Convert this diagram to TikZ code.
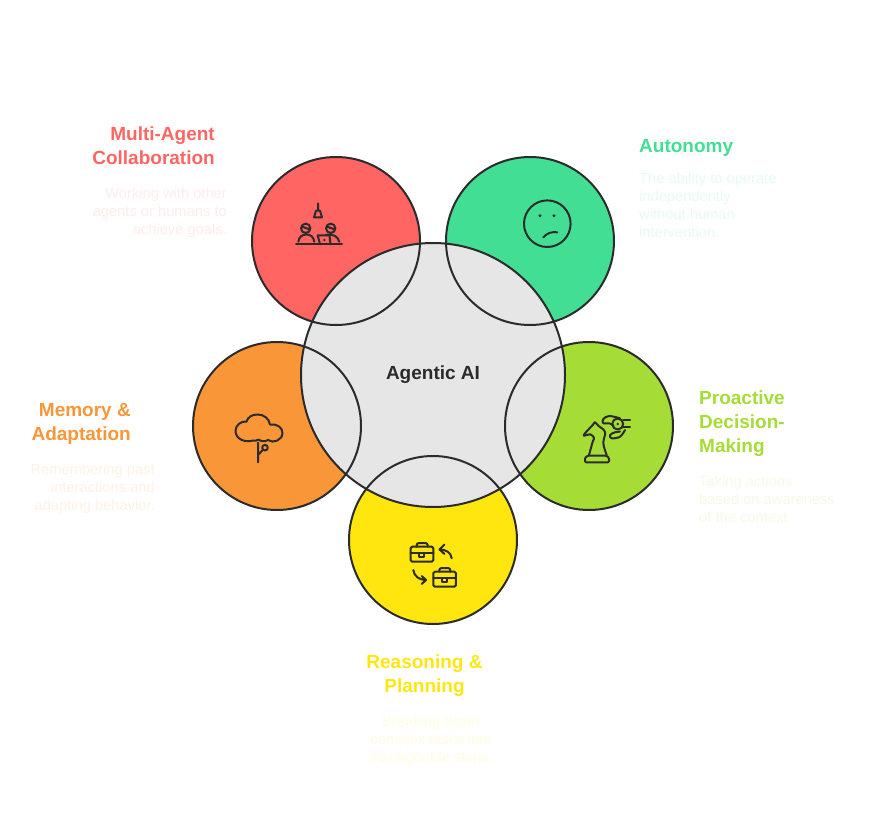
\documentclass[tikz,border=0pt]{standalone}
\usepackage{fontspec}
\setmainfont{Liberation Sans}
\usetikzlibrary{positioning,calc}
\definecolor{inkdark}{HTML}{2B2B2B}
\definecolor{hubgray}{HTML}{E6E6E6}
\definecolor{collabred}{HTML}{FF6663}
\definecolor{autogreen}{HTML}{42DE94}
\definecolor{proactlime}{HTML}{A5DC36}
\definecolor{reasonyellow}{HTML}{FFE60F}
\definecolor{memorange}{HTML}{F99638}
\tikzset{
  titlelabel/.style={font=\bfseries\fontsize{19}{24}\selectfont,inner sep=0pt},
  textlabel/.style={font=\fontsize{14.7}{18}\selectfont,inner sep=0pt},
  ring/.style={draw=inkdark,line width=2pt},
  glyph/.style={draw=inkdark,line width=2pt,line cap=round,line join=round},
  briefcase/.pic={
    \draw[glyph,rounded corners=1.5pt] (0,0) rectangle (22.6,15);
    \draw[glyph,rounded corners=2pt] (6,0) -- (6,-3.6) -- (17,-3.6) -- (17,0);
    \draw[glyph] (0,6.6) -- (8.3,6.6) (13.3,6.6) -- (22.6,6.6);
    \draw[glyph] (8.3,6) rectangle (13.3,10.6);
  }
}
\begin{document}
\begin{tikzpicture}[x=1pt,y=-1pt]
\useasboundingbox (0,0) rectangle (878,818);
% circles
\fill[collabred] (336,241) circle (84); \fill[autogreen] (530,241) circle (84); \fill[proactlime] (589,426) circle (84);
\fill[reasonyellow] (433,540) circle (84); \fill[memorange] (277,426) circle (84);
\fill[hubgray] (433,375) circle (132);
\draw[ring] (336,241) circle (84); \draw[ring] (530,241) circle (84); \draw[ring] (589,426) circle (84);
\draw[ring] (433,540) circle (84); \draw[ring] (277,426) circle (84); \draw[ring] (433,375) circle (132);
\node[titlelabel,text=inkdark] (hub) at (433,375) {Agentic AI};
% labels
\node[titlelabel,text=collabred,align=right,anchor=north east] (collabtitle) at (215,127) {Multi-Agent\\Collaboration};
\node[textlabel,text=collabred!13,align=right,anchor=north east] (collabtext) at (227,188) {Working with other\\agents or humans to\\achieve goals.};
\node[titlelabel,text=autogreen,align=left,anchor=north west] (autotitle) at (639,139) {Autonomy};
\node[textlabel,text=autogreen!13,align=left,anchor=north west] (autotext) at (639,173) {The ability to operate\\independently\\without human\\intervention.};
\node[titlelabel,text=proactlime,align=left,anchor=north west] (proacttitle) at (699,391) {Proactive\\Decision-\\Making};
\node[textlabel,text=proactlime!13,align=left,anchor=north west] (proacttext) at (699,476) {Taking actions\\based on awareness\\of the context.};
\node[titlelabel,text=reasonyellow,align=center,anchor=north] (reasontitle) at (424.5,655) {Reasoning \&\\Planning};
\node[textlabel,text=reasonyellow!13,align=center,anchor=north] (reasontext) at (431,716) {Breaking down\\complex tasks into\\manageable steps.};
\node[titlelabel,text=memorange,align=right,anchor=north east] (memtitle) at (131,403) {Memory \&\\Adaptation};
\node[textlabel,text=memorange!13,align=right,anchor=north east] (memtext) at (155,464) {Remembering past\\interactions and\\adapting behavior.};
% people at a table
\draw[glyph] (296,244.3) -- (342,244.3);
\draw[glyph] (305.7,228.3) circle (4.7) (301.5,226.5) -- (310,229.5) (330.7,228.3) circle (4.7) (326.5,226.5) -- (335,229.5);
\draw[glyph] (298.3,241.7) .. controls (299,237) and (302,234.5) .. (306.5,234.5) .. controls (311,234.5) and (313.5,237) .. (314.3,241.7);
\draw[glyph] (326,234.8) .. controls (333,233.5) and (338,236.5) .. (339.3,241.7);
\draw[glyph] (320,244.3) -- (317.7,235.3) -- (329.5,235.3) -- (330.5,244.3);
\fill[inkdark] (324.3,240) circle (1.3);
\draw[glyph] (318,203.3) -- (318,210.7) (316,210.7) -- (320,210.7) -- (322,217.3) -- (314,217.3) -- cycle;
% sad face
\draw[glyph] (547.3,223.7) circle (23.3);
\fill[inkdark] (540,215.7) circle (1.6) (554,215.7) circle (1.6);
\draw[glyph] (543.3,237.3) .. controls (547,233) and (552,231.5) .. (557.3,232.3);
% chess knight and gear
\draw[glyph,rounded corners=1pt] (585,462.3) -- (609,462.3) -- (609,458) -- (606.5,455.7) -- (587.5,455.7) -- (585,458) -- cycle;
\draw[glyph] plot[smooth,tension=.6] coordinates {(589,455) (592.7,441.7) (594,437.7) (590,434.3) (584,435.7) (585,433.3) (593.3,424.3) (595,422.3) (598.3,425.7) (605,432) (603.3,443.3) (606.7,455)};
\draw[glyph] (617.7,424) circle (5.5);
\fill[inkdark] (617.7,424) circle (1.3);
\draw[glyph] (623.3,420) -- (630,420) (623.3,426.7) -- (630,426.7);
\draw[glyph] plot[smooth,tension=.6] coordinates {(613.7,425.7) (609.3,423.3) (603.3,423.3) (603.3,419) (609.3,416) (620,418.3)};
\draw[glyph] plot[smooth,tension=.6] coordinates {(625,430) (620,436.7) (611.7,438.3) (610,435) (615,432.3) (620,431.7)};
% tree cloud
\draw[glyph] (253,440.5) .. controls (245,443) and (235.5,439) .. (235.5,431) .. controls (235.5,425) and (241,421) .. (246.5,421.5) .. controls (248,417) and (252,414.5) .. (257.5,414.5) .. controls (264,414.5) and (269,418.5) .. (270,424.5) .. controls (277,423.5) and (282.5,427.5) .. (282.5,433) .. controls (282.5,440) and (273,444) .. (268,440) .. controls (265,442) and (261,441.5) .. (258.5,439.5) .. controls (257,441) and (255,441) .. (253,440.5);
\draw[glyph] (258,442.7) -- (258,462.3) (258,455) -- (262.7,450);
\draw[glyph] (265,447.7) circle (2.8);
% briefcases and arrows
\pic at (410.7,546.7) {briefcase};
\pic at (433.3,571.7) {briefcase};
\draw[glyph] (451.7,558.3) .. controls (451,552.5) and (446,549.5) .. (439.5,549.5) (444.5,544.5) -- (439.5,549.5) -- (444.5,554);
\draw[glyph] (413.3,570) .. controls (414,576) and (419,580) .. (426,580) (421.7,576) -- (426,580) -- (421.7,584);
\end{tikzpicture}
\end{document}
